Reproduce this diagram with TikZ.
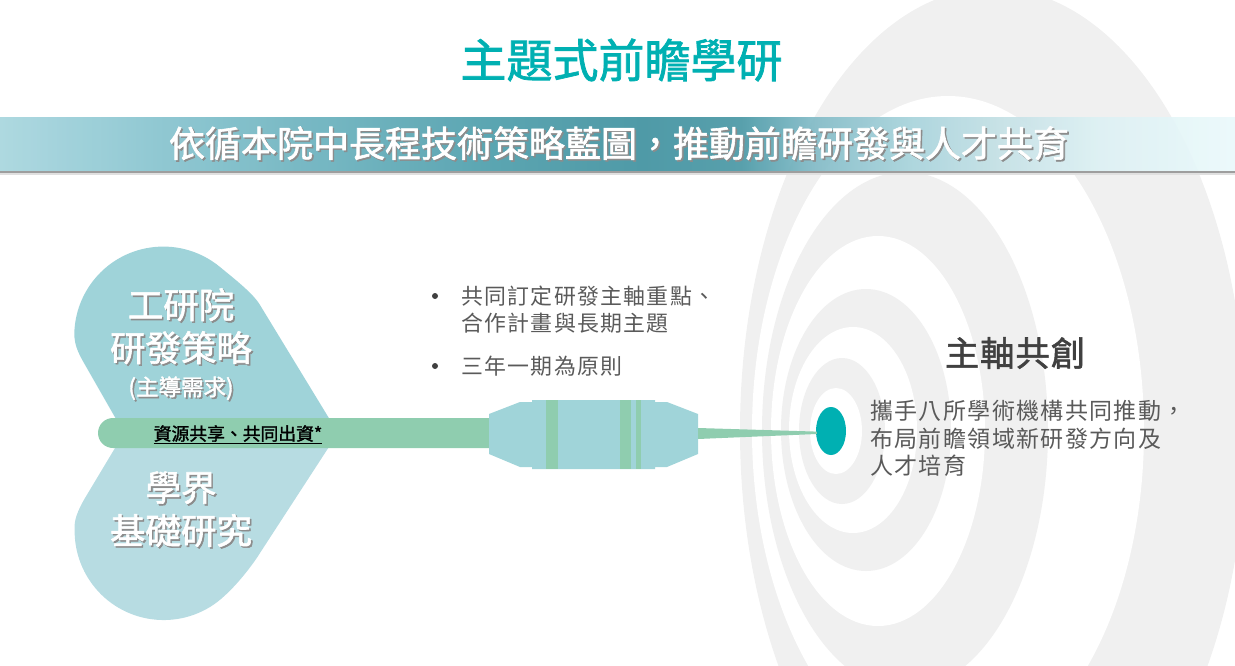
\documentclass[tikz,border=0pt]{standalone}
\usepackage{fontspec}
\usetikzlibrary{shapes.geometric,calc}
\setmainfont{Noto Sans CJK TC}
\newfontfamily\heavy{Noto Sans CJK TC}[FakeBold=1.6]
\newfontfamily\spaced{Noto Sans CJK TC}[LetterSpace=6]
\newfontfamily\headspaced{Noto Sans CJK TC}[FakeBold=1.6,LetterSpace=3]
\definecolor{ringgray}{HTML}{F0F0F0}
\definecolor{teal}{HTML}{00B0B2}
\definecolor{lobeup}{HTML}{9FD3D9}
\definecolor{lobedown}{HTML}{B7DCE2}
\definecolor{barGreen}{HTML}{8FCDAF}
\definecolor{bodyBlue}{HTML}{A0D4D9}
\definecolor{darktext}{HTML}{404040}
\definecolor{softtext}{HTML}{5A5A5A}
\definecolor{bA}{HTML}{A8D6DE}
\definecolor{bB}{HTML}{8AC5D0}
\definecolor{bC}{HTML}{6FB4C0}
\definecolor{bD}{HTML}{4E9EAB}
\definecolor{bE}{HTML}{4292A0}
\definecolor{bF}{HTML}{4B99A6}
\definecolor{bG}{HTML}{84BCC8}
\definecolor{bH}{HTML}{A9D4DC}
\definecolor{bI}{HTML}{C4E0E5}
\definecolor{bJ}{HTML}{DDF1F4}
\definecolor{bK}{HTML}{EAF9FB}
\pgfdeclarehorizontalshading{bannershade}{100bp}{
  color(0bp)=(bA); color(25bp)=(bA); color(31bp)=(bB); color(37bp)=(bC);
  color(45bp)=(bD); color(51bp)=(bE); color(55bp)=(bF); color(58bp)=(bG);
  color(62bp)=(bH); color(65.5bp)=(bI); color(69.5bp)=(bJ); color(75bp)=(bK); color(100bp)=(bK)}
% white lettering with an offset drop shadow
\newcommand{\dropped}[1]{\leavevmode\rlap{\kern1.6pt\raisebox{-1.6pt}{\textcolor{black!45}{#1}}}#1}
\tikzset{
  ring/.style={fill=ringgray},
  hole/.style={fill=white},
  lettering/.style={text=white,font=\heavy\fontsize{35.5}{43}\selectfont,align=center,inner sep=0pt},
  bodytext/.style={text=softtext,anchor=west,align=left,inner sep=0pt},
  bulletdot/.style={circle,fill=darktext,inner sep=0pt,minimum size=6pt}
}
\begin{document}
\begin{tikzpicture}[x=1pt,y=-1pt]
\useasboundingbox (0,0) rectangle (1235,666);
\begin{scope}
\clip (0,0) rectangle (1235,666);
% concentric target rings
\fill[ring] (993,431) ellipse [x radius=253pt,y radius=443pt];
\fill[hole] (948,431) ellipse [x radius=196pt,y radius=335pt];
\fill[ring] (905,431) ellipse [x radius=143pt,y radius=259pt];
\fill[hole] (878,431) ellipse [x radius=107pt,y radius=195pt];
\fill[ring] (866,430) ellipse [x radius=85pt,y radius=141pt];
\fill[hole] (853,430) ellipse [x radius=64pt,y radius=103pt];
\fill[ring] (842,431) ellipse [x radius=43pt,y radius=73pt];
\fill[hole] (836,431) ellipse [x radius=26pt,y radius=43pt];
\end{scope}
% title
\node[text=teal,font=\heavy\fontsize{46}{50}\selectfont,inner sep=0pt] (title) at (621.5,60) {主題式前瞻學研};
% banner
\fill[black!38] (0,171) rectangle (1235,173);
\fill[black!12] (0,173) rectangle (1235,175);
\shade[shading=bannershade,opacity=.93] (0,118) rectangle (1235,171);
\node[text=white,font=\heavy\fontsize{36}{40}\selectfont,inner sep=0pt] (banner) at (619,144) {\dropped{依循本院中長程技術策略藍圖，推動前瞻研發與人才共育}};
% heart made of two lobes
\fill[lobeup] (338,433) -- (260,305) .. controls (253,293) and (232,277) .. (220,267)
  arc[start angle=50.4,end angle=178,radius=89pt] .. controls (74,347) and (80,356) .. (88,370) -- (124,433) -- cycle;
\fill[lobedown] (338,433) -- (260,553) .. controls (252,566) and (230,595) .. (210,607)
  arc[start angle=-58.6,end angle=-182,radius=89pt] .. controls (74,520) and (78,510) .. (85,498) -- (124,433) -- cycle;
% shaft
\fill[barGreen] (489,418) -- (113,418) arc[start angle=90,end angle=270,radius=15pt] -- (489,448) -- cycle;
\node[font=\heavy\fontsize{17.8}{20}\selectfont,text=black,inner sep=0pt] (share) at (238,434.5) {\underline{資源共享、共同出資*}};
\node[lettering] (itri) at (181,327) {\dropped{工研院}\\\dropped{研發策略}};
\node[lettering,font=\heavy\fontsize{22.5}{26}\selectfont] (lead) at (181,389) {\dropped{(主導需求)}};
\node[lettering] (acad) at (181,510) {\dropped{學界}\\\dropped{基礎研究}};
% barrel with green bands
\fill[bodyBlue] (489,414) -- (520,402) -- (532,402) -- (532,400) -- (655,400) -- (655,402) -- (667,402) -- (698,414)
  -- (698,454) -- (667,467) -- (655,467) -- (655,469) -- (532,469) -- (532,467) -- (520,467) -- (489,454) -- cycle;
\fill[barGreen] (546,400) rectangle (558,469);
\fill[barGreen] (620,400) rectangle (631,469);
\fill[barGreen] (636,400) rectangle (641,469);
% target dot and the tapered needle reaching it
\node[ellipse,fill=teal,minimum width=30pt,minimum height=48pt,inner sep=0pt] (dot) at (831,431) {};
\coordinate (needletop) at (698,428);
\coordinate (needlebot) at (698,439);
\fill[barGreen] (needletop) -- ($(dot.west)+(1,0.6)$) -- ($(dot.west)+(1,3)$) -- (needlebot) -- cycle;
% bullet list
\node[bulletdot] (b1) at (435,296) {};
\node[bulletdot] (b2) at (435,366) {};
\node[bodytext,font=\spaced\fontsize{21.9}{27}\selectfont] (t1) at (461,309.5) {共同訂定研發主軸重點、\\合作計畫與長期主題};
\node[bodytext,font=\spaced\fontsize{21.9}{27}\selectfont] (t2) at (461,366) {三年一期為原則};
% right-hand caption
\node[text=darktext,font=\headspaced\fontsize{34.3}{40}\selectfont,inner sep=0pt] (cap) at (1015,353) {主軸共創};
\node[bodytext,font=\spaced\fontsize{23}{27.7}\selectfont] (capbody) at (870,438.5) {攜手八所學術機構共同推動，\\布局前瞻領域新研發方向及\\人才培育};
\end{tikzpicture}
\end{document}
